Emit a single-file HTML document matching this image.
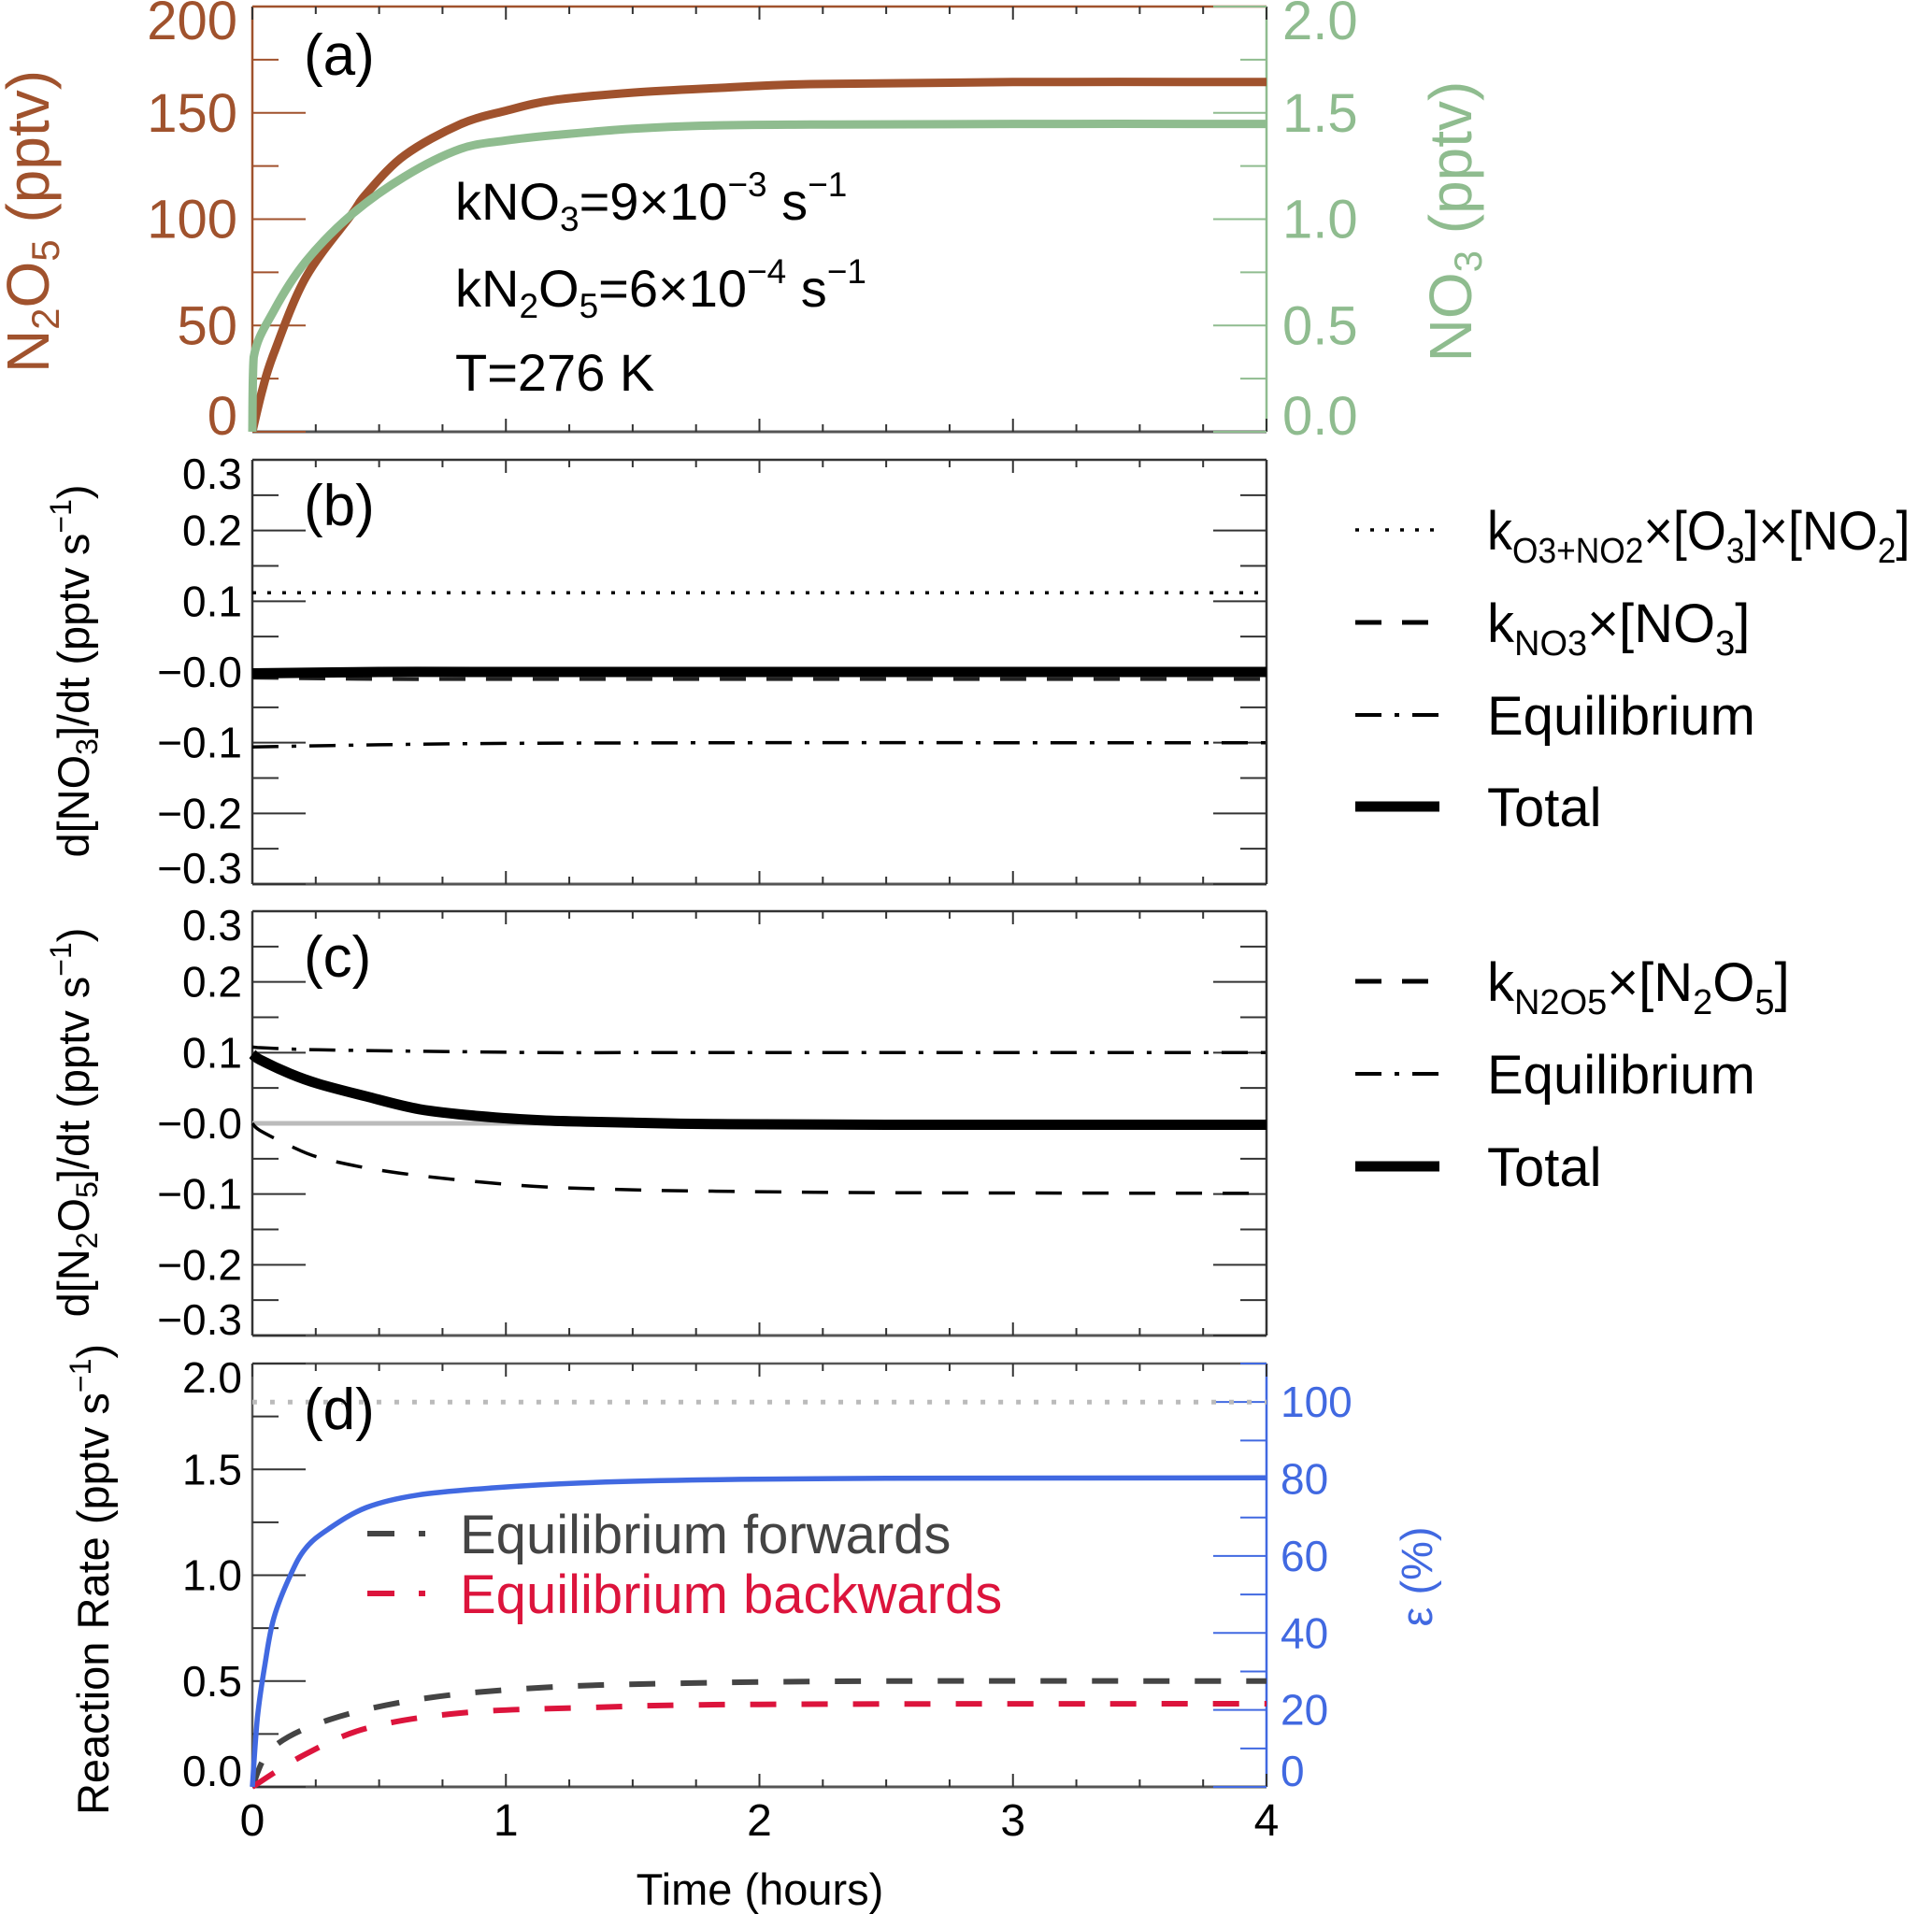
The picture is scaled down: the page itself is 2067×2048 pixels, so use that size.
<!DOCTYPE html>
<html><head><meta charset="utf-8">
<style>
html,body{margin:0;padding:0;background:#fff;}
svg{display:block;font-family:"Liberation Sans",Arial,sans-serif;}
</style></head>
<body>
<svg id="chart" width="2067" height="2048" viewBox="0 0 2067 2048" xmlns="http://www.w3.org/2000/svg">
<g id="g"></g>
</svg>
<script>
// ---------- data ----------
const xTicks = [0,1,2,3,4];
// panel a
const tA = [0,0.04,0.085,0.21,0.39,0.45,0.6,0.82,1.0,1.19,1.5,1.8,2.2,3.0,4.0];
const n2o5 = [0,20,37,72.5,102,112,130,144.6,151,156,159.5,161.5,163.5,164.5,164.5];
const tNO3 = [0,0.005,0.085,0.21,0.39,0.6,0.82,1.0,1.19,1.5,1.8,2.2,3.0,4.0];
const no3 = [0,0.35,0.57,0.8,1.02,1.2,1.33,1.37,1.395,1.425,1.44,1.445,1.448,1.448];
const aLeftTicks = [0,50,100,150,200];
const aRightTicks = ["0.0","0.5","1.0","1.5","2.0"];
// panel b
const tB = [0,0.5,1,2,3,4];
const bDotted = [0.112,0.112,0.112,0.112,0.112,0.112];
const bDashed = [-0.008,-0.01,-0.01,-0.01,-0.01,-0.01];
const bDashDot = [-0.106,-0.103,-0.101,-0.1,-0.1,-0.1];
const bTotal = [-0.002,0,0,0,0,0];
const bcTicks = ["−0.3","−0.2","−0.1","−0.0","0.1","0.2","0.3"];
const bcTickVals = [-0.3,-0.2,-0.1,0,0.1,0.2,0.3];
// panel c
const tC = [0,0.03,0.15,0.26,0.45,0.66,0.9,1.16,1.5,1.83,2.5,4];
const cDashed = [0,-0.01,-0.032,-0.048,-0.063,-0.074,-0.083,-0.09,-0.094,-0.096,-0.098,-0.099];
const cDashDot = [0.108,0.107,0.105,0.104,0.103,0.102,0.101,0.1,0.1,0.1,0.1,0.1];
const cTotal = [0.098,0.09,0.07,0.056,0.038,0.02,0.01,0.004,0.001,-0.001,-0.002,-0.002];
// panel d
const tD = [0,0.02,0.05,0.085,0.15,0.21,0.3,0.45,0.65,0.95,1.3,1.8,2.5,4];
const eps = [0,18,32,44,55,62,67,72.6,75.8,77.7,79,79.8,80.2,80.3];
const tF = [0,0.08,0.31,0.69,1.16,1.71,2.5,4];
const fwd = [0,0.185,0.32,0.42,0.47,0.49,0.5,0.5];
const tR = [0,0.21,0.46,0.83,1.33,2.0,4];
const bwd = [0,0.155,0.28,0.35,0.375,0.39,0.393];
const epsRef = [100,100];
const dLeftTicks = ["0.0","0.5","1.0","1.5","2.0"];
const dRightTicks = [0,20,40,60,80,100];

// ---------- helpers ----------
const NS = "http://www.w3.org/2000/svg";
const root = document.getElementById('g');
function el(tag, attrs, parent){ const e=document.createElementNS(NS,tag); for(const k in attrs) e.setAttribute(k,attrs[k]); (parent||root).appendChild(e); return e; }
const X0=270, X1=1355;
const xs = t => X0 + (t/4)*(X1-X0);
function yScale(top,bot,min,max){ return v => bot - (v-min)/(max-min)*(bot-top); }
function path(ts, vs, y){
  const P=ts.map((t,i)=>[xs(t),y(vs[i])]);
  let d='M'+P[0][0].toFixed(1)+','+P[0][1].toFixed(1);
  for(let i=0;i<P.length-1;i++){
    const p0=P[Math.max(0,i-1)],p1=P[i],p2=P[i+1],p3=P[Math.min(P.length-1,i+2)];
    const k=1/6;
    let c1=[p1[0]+(p2[0]-p0[0])*k,p1[1]+(p2[1]-p0[1])*k];
    let c2=[p2[0]-(p3[0]-p1[0])*k,p2[1]-(p3[1]-p1[1])*k];
    c1[0]=Math.min(Math.max(c1[0],p1[0]),p2[0]); c2[0]=Math.min(Math.max(c2[0],p1[0]),p2[0]);
    d+='C'+c1[0].toFixed(1)+','+c1[1].toFixed(1)+' '+c2[0].toFixed(1)+','+c2[1].toFixed(1)+' '+p2[0].toFixed(1)+','+p2[1].toFixed(1);
  }
  return d;
}
function txt(s, x, y, size, fill, anchor, parent){ const e=el('text',{x:x,y:y,'font-size':size,fill:fill||'#000','text-anchor':anchor||'start'},parent); e.innerHTML=s; return e; }
function edge(i,n){ return i===0?-17:(i===n-1?15:0); }
function frame(top,bot,colL,colR,colT,name){
  const g=el('g',{});  
  el('line',{x1:X0,y1:top,x2:X1,y2:top,stroke:colT||'#555','stroke-width':2.5},g);
  el('line',{x1:X0,y1:bot,x2:X1,y2:bot,stroke:'#555','stroke-width':3},g);
  el('line',{x1:X0,y1:top,x2:X0,y2:bot,stroke:colL,'stroke-width':2.5},g);
  el('line',{x1:X1,y1:top,x2:X1,y2:bot,stroke:colR,'stroke-width':2.5},g);
  for(let t=0;t<=4.001;t+=0.25){ const maj=Math.abs(t-Math.round(t))<1e-6; const L=maj?14:8;
    el('line',{x1:xs(t),y1:bot,x2:xs(t),y2:bot-L,stroke:'#333','stroke-width':2},g);
    el('line',{x1:xs(t),y1:top,x2:xs(t),y2:top+L,stroke:'#333','stroke-width':2},g); }
  return g;
}
function yTicks(y, min, max, step, majorEvery, side, col, g){
  const n=Math.round((max-min)/step);
  for(let i=0;i<=n;i++){ const v=min+i*step; const L=(i%majorEvery===0)?57:28; const yy=y(v);
    if(side==='L') el('line',{x1:X0,y1:yy,x2:X0+L,y2:yy,stroke:col,'stroke-width':2},g);
    else el('line',{x1:X1,y1:yy,x2:X1-L,y2:yy,stroke:col,'stroke-width':2},g); }
}

// ---------- panel a ----------
const BR='#a0522d', GR='#8fbc8f', BL='#4169e1';
const yA = yScale(7,462,0,200), yA2 = yScale(7,462,0,2);
let g=frame(7,462,BR,GR,BR,'panel-a-frame');
yTicks(yA,0,200,25,2,'L',BR,g); yTicks(yA2,0,2,0.25,2,'R',GR,g);
aLeftTicks.forEach((v,i)=>{ const e=txt(String(v),254,yA(v)+20+edge(i,aLeftTicks.length),58,BR,'end');   });
aRightTicks.forEach((s,i)=>{ const e=txt(s,1372,yA2(parseFloat(s))+20+edge(i,aRightTicks.length),58,GR,'start');   });
let p=el('path',{d:path(tA,n2o5,yA),fill:'none',stroke:BR,'stroke-width':9,'stroke-linejoin':'round'});  
p=el('path',{d:path(tNO3,no3,yA2),fill:'none',stroke:GR,'stroke-width':9,'stroke-linejoin':'round'});  
let t=txt('(a)',325,80,62);  
t=txt('kNO<tspan font-size="37" dy="12">3</tspan><tspan dy="-12">=9×10</tspan><tspan font-size="37" dy="-25">−3</tspan><tspan dy="25"> s</tspan><tspan font-size="37" dy="-25">−1</tspan>',487,235,56);  
t=txt('kN<tspan font-size="37" dy="12">2</tspan><tspan dy="-12">O</tspan><tspan font-size="37" dy="12">5</tspan><tspan dy="-12">=6×10</tspan><tspan font-size="37" dy="-25">−4</tspan><tspan dy="25"> s</tspan><tspan font-size="37" dy="-25">−1</tspan>',487,328,56);  
t=txt('T=276 K',487,418,56);  
t=txt('N<tspan font-size="42" dy="11">2</tspan><tspan dy="-11">O</tspan><tspan font-size="42" dy="11">5</tspan><tspan dy="-11"> (pptv)</tspan>',0,0,64,BR,'middle');
t.setAttribute('transform','translate(52,237) rotate(-90)');  
t=txt('NO<tspan font-size="42" dy="11">3</tspan><tspan dy="-11"> (pptv)</tspan>',0,0,64,GR,'middle');
t.setAttribute('transform','translate(1574,237) rotate(-90)');  

// ---------- panel b ----------
const yB = yScale(492,946,-0.3,0.3);
g=frame(492,946,'#333','#333','#333','panel-b-frame');
yTicks(yB,-0.3,0.3,0.05,2,'L','#333',g); yTicks(yB,-0.3,0.3,0.05,2,'R','#333',g);
bcTickVals.forEach((v,i)=>{ const e=txt(bcTicks[i],259,yB(v)+16+edge(i,bcTickVals.length),46,'#000','end');   });
p=el('path',{d:path(tB,bDotted,yB),fill:'none',stroke:'#000','stroke-width':3.5,'stroke-dasharray':'4 12'});  
p=el('path',{d:path(tB,bDashed,yB),fill:'none',stroke:'#222','stroke-width':4,'stroke-dasharray':'28 22'});  
p=el('path',{d:path(tB,bDashDot,yB),fill:'none',stroke:'#000','stroke-width':3.5,'stroke-dasharray':'28 14 5 14'});  
p=el('path',{d:path(tB,bTotal,yB),fill:'none',stroke:'#000','stroke-width':11});  
t=txt('(b)',325,562,62);  
t=txt('d[NO<tspan font-size="32" dy="9">3</tspan><tspan dy="-9">]/dt (pptv s</tspan><tspan font-size="32" dy="-19">−1</tspan><tspan dy="19">)</tspan>',0,0,47,'#000','middle');
t.setAttribute('transform','translate(95,718) rotate(-90)');  

// legend b
function legRow(y, dash, w, label, name, sx){
  const lg=el('g',{});  
  el('line',{x1:1450,y1:y,x2:1540,y2:y,stroke:'#000','stroke-width':w,'stroke-dasharray':dash},lg);
  const e=txt(label,0,0,58,'#000','start',lg);
  e.setAttribute('transform','translate(1591,'+(y+21)+') scale('+(sx||1)+',1)');
  return lg; }
legRow(567,'4 12',3.5,'k<tspan font-size="38" dy="14">O3+NO2</tspan><tspan dy="-14">×[O</tspan><tspan font-size="38" dy="14">3</tspan><tspan dy="-14">]×[NO</tspan><tspan font-size="38" dy="14">2</tspan><tspan dy="-14">]</tspan>','legend-b-o3-no2',0.93);
legRow(666,'28 22',5,'k<tspan font-size="38" dy="14">NO3</tspan><tspan dy="-14">×[NO</tspan><tspan font-size="38" dy="14">3</tspan><tspan dy="-14">]</tspan>','legend-b-kno3');
legRow(765,'28 14 5 14',4,'Equilibrium','legend-b-equilibrium');
legRow(863,'none',11,'Total','legend-b-total');

// ---------- panel c ----------
const yC = yScale(975,1429,-0.3,0.3);
g=frame(975,1429,'#333','#333','#333','panel-c-frame');
yTicks(yC,-0.3,0.3,0.05,2,'L','#333',g); yTicks(yC,-0.3,0.3,0.05,2,'R','#333',g);
bcTickVals.forEach((v,i)=>{ const e=txt(bcTicks[i],259,yC(v)+16+edge(i,bcTickVals.length),46,'#000','end');   });
p=el('line',{x1:xs(0),y1:yC(0),x2:xs(1.3),y2:yC(0),stroke:'#bbb','stroke-width':5});  
p=el('path',{d:path(tC,cDashed,yC),fill:'none',stroke:'#000','stroke-width':3.5,'stroke-dasharray':'28 22'});  
p=el('path',{d:path(tC,cDashDot,yC),fill:'none',stroke:'#000','stroke-width':3.5,'stroke-dasharray':'28 14 5 14'});  
p=el('path',{d:path(tC,cTotal,yC),fill:'none',stroke:'#000','stroke-width':11,'stroke-linejoin':'round'});  
t=txt('(c)',325,1045,62);  
t=txt('d[N<tspan font-size="32" dy="9">2</tspan><tspan dy="-9">O</tspan><tspan font-size="32" dy="9">5</tspan><tspan dy="-9">]/dt (pptv s</tspan><tspan font-size="32" dy="-19">−1</tspan><tspan dy="19">)</tspan>',0,0,47,'#000','middle');
t.setAttribute('transform','translate(95,1201) rotate(-90)');  
legRow(1050,'28 22',5,'k<tspan font-size="38" dy="14">N2O5</tspan><tspan dy="-14">×[N</tspan><tspan font-size="38" dy="14">2</tspan><tspan dy="-14">O</tspan><tspan font-size="38" dy="14">5</tspan><tspan dy="-14">]</tspan>','legend-c-kn2o5');
legRow(1149,'28 14 5 14',4,'Equilibrium','legend-c-equilibrium');
legRow(1248,'none',11,'Total','legend-c-total');

// ---------- panel d ----------
const yD = yScale(1459,1912,0,2), yE = yScale(1459,1912,0,110);
g=frame(1459,1912,'#555',BL,'#555','panel-d-frame');
yTicks(yD,0,2,0.25,2,'L','#333',g); yTicks(yE,0,110,10,2,'R',BL,g);
dLeftTicks.forEach((s,i)=>{ const e=txt(s,259,yD(parseFloat(s))+16+edge(i,dLeftTicks.length),46,'#000','end');   });
dRightTicks.forEach((v,i)=>{ const e=txt(String(v),1370,yE(v)+16+(i===0?-17:0),46,BL,'start');   });
p=el('path',{d:path([0,4],epsRef,yE),fill:'none',stroke:'#bbb','stroke-width':5,'stroke-dasharray':'5 14'});  
p=el('path',{d:path(tF,fwd,yD),fill:'none',stroke:'#444','stroke-width':6,'stroke-dasharray':'28 27'});  
p=el('path',{d:path(tR,bwd,yD),fill:'none',stroke:'#dc143c','stroke-width':6,'stroke-dasharray':'28 27'});  
p=el('path',{d:path(tD,eps,yE),fill:'none',stroke:BL,'stroke-width':5.5,'stroke-linejoin':'round'});  
t=txt('(d)',325,1529,62);  
t=txt('Reaction Rate (pptv s<tspan font-size="32" dy="-19">−1</tspan><tspan dy="19">)</tspan>',0,0,47,'#000','middle');
t.setAttribute('transform','translate(116,1690) rotate(-90)');  
t=txt('ε (%)',0,0,47,BL,'middle');
t.setAttribute('transform','translate(1532,1687) rotate(-90)');  
let lg=el('g',{});  
el('line',{x1:393,y1:1641,x2:422,y2:1641,stroke:'#444','stroke-width':6},lg); el('line',{x1:448,y1:1641,x2:455,y2:1641,stroke:'#444','stroke-width':6},lg);
txt('Equilibrium forwards',492,1662,58,'#444','start',lg);
lg=el('g',{});  
el('line',{x1:393,y1:1705,x2:422,y2:1705,stroke:'#dc143c','stroke-width':6},lg); el('line',{x1:448,y1:1705,x2:455,y2:1705,stroke:'#dc143c','stroke-width':6},lg);
txt('Equilibrium backwards',492,1726,58,'#dc143c','start',lg);

// x axis labels
xTicks.forEach(v=>{ const e=txt(String(v),xs(v),1964,48,'#000','middle');   });
t=txt('Time (hours)',813,2038,47,'#000','middle');  
</script>
</body></html>
